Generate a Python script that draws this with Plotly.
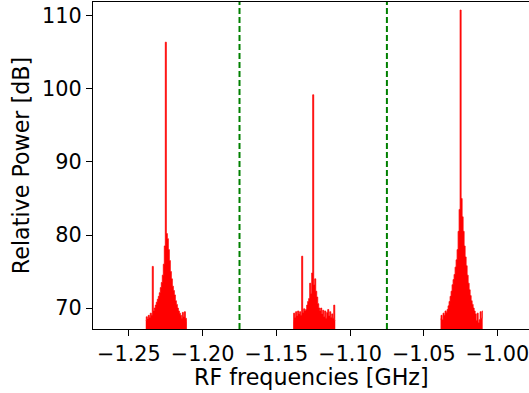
import numpy as np
import plotly.graph_objects as go

# Spectrum clusters: relative power [dB] per frequency bin, peak bin at index 20
CENTERS_GHZ = [-1.225, -1.125, -1.025]
BIN_GHZ = 0.00068
PEAK_INDEX = 20

cluster1_db = [68.3, 68.8, 68.5, 69.0, 68.7, 69.3, 69.0, 75.7, 69.6, 70.0,
               70.4, 70.8, 71.2, 71.6, 72.1, 72.8, 73.5, 74.5, 76.0, 78.5,
               106.4, 80.2, 79.5, 78.0, 76.5, 75.0, 74.0, 73.0, 72.4, 71.8,
               71.0, 70.5, 70.0, 69.6, 69.3, 69.0, 68.6, 69.4, 68.8, 69.5,
               68.6, 68.2]
cluster2_db = [68.2, 69.3, 68.7, 69.5, 68.9, 69.6, 69.2, 69.5, 69.0, 77.1,
               69.4, 69.9, 69.6, 69.8, 70.4, 70.9, 71.3, 73.4, 72.0, 74.8,
               99.2, 73.2, 74.0, 72.3, 71.5, 70.6, 70.0, 69.6, 70.0, 69.2,
               69.7, 68.8, 69.6, 68.6, 69.4, 69.8, 68.9, 69.5, 68.7, 69.2,
               68.6, 70.4, 68.3]
cluster3_db = [68.5, 69.0, 68.4, 69.3, 69.0, 69.6, 69.4, 69.8, 70.3, 70.9,
               71.6, 72.3, 73.2, 73.9, 74.6, 75.6, 76.6, 78.0, 80.5, 83.5,
               110.8, 85.0, 82.5, 80.5, 78.5, 77.0, 75.8, 74.5, 73.4, 72.5,
               71.7, 71.0, 70.5, 70.0, 69.6, 69.2, 68.3, 69.3, 68.0, 68.4,
               69.5, 68.6, 69.6]

DIVIDERS_GHZ = [-1.175, -1.075]
X_TICKS = [-1.25, -1.20, -1.15, -1.10, -1.05, -1.00]
X_TICK_TEXT = ["\u22121.25", "\u22121.20", "\u22121.15", "\u22121.10", "\u22121.05", "\u22121.00"]
Y_TICKS = [70, 80, 90, 100, 110]
X_RANGE = [-1.2744, -0.9786]
Y_RANGE = [67.13, 111.9]

FONT = "DejaVu Sans"
TICK_FS = 20.8
TITLE_FS = 22.2

fig = go.Figure()
for center, vals in zip(CENTERS_GHZ, [cluster1_db, cluster2_db, cluster3_db]):
    freqs = center + (np.arange(len(vals)) - PEAK_INDEX) * BIN_GHZ
    fig.add_trace(go.Scatter(
        x=freqs, y=vals, mode="lines",
        line=dict(color="red", width=0.8, shape="hvh"),
        fill="tozeroy", fillcolor="red",
        showlegend=False, hoverinfo="skip",
    ))

for xd in DIVIDERS_GHZ:
    fig.add_shape(type="line", xref="x", yref="paper", x0=xd, x1=xd, y0=0, y1=1,
                  line=dict(color="green", width=2, dash="6px,3px"))

fig.add_annotation(
    text="RF frequencies [GHz]", xref="paper", yref="paper", x=0.5, y=0,
    xanchor="center", yanchor="middle", yshift=-48, showarrow=False,
    font=dict(family=FONT, size=TITLE_FS, color="black"),
)

fig.update_layout(
    width=529, height=393,
    margin=dict(l=93, r=0, t=2, b=64, autoexpand=False),
    paper_bgcolor="white", plot_bgcolor="white",
    font=dict(family=FONT, size=TICK_FS, color="black"),
    showlegend=False,
)
fig.update_xaxes(
    range=X_RANGE, tickvals=X_TICKS, ticktext=X_TICK_TEXT,
    showgrid=False, zeroline=False,
    showline=True, linecolor="black", linewidth=1.3, mirror=True,
    ticks="outside", ticklen=6, tickwidth=1.2, tickcolor="black",
    tickfont=dict(family=FONT, size=TICK_FS),
    ticklabeloverflow="allow",
    automargin=False,
)
fig.update_yaxes(
    range=Y_RANGE, tickvals=Y_TICKS,
    showgrid=False, zeroline=False,
    showline=True, linecolor="black", linewidth=1.3, mirror=False,
    ticks="outside", ticklen=6, tickwidth=1.2, tickcolor="black",
    tickfont=dict(family=FONT, size=TICK_FS),
    ticklabeloverflow="allow",
    title=dict(text="Relative Power [dB]", font=dict(family=FONT, size=TITLE_FS), standoff=6),
    automargin=False,
)

fig.write_html("out.html")
